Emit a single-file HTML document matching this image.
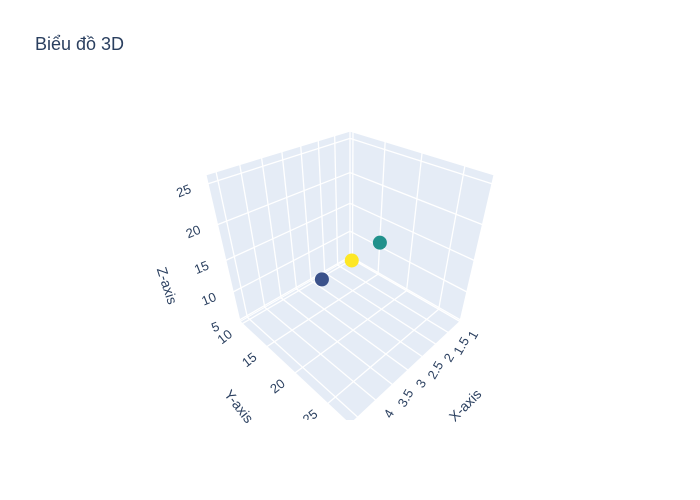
<!DOCTYPE html>
<html><head><meta charset="utf-8"><style>
body{margin:0;background:#fff}
svg{display:block;font-family:"Liberation Sans","DejaVu Sans",sans-serif}
</style></head><body>
<svg id="chart" width="700" height="500">
<rect width="700" height="500" fill="#fff"/>
<text x="35" y="50" font-size="18" fill="#2a3f5f">Biểu đồ 3D</text>
<defs><clipPath id="sc"><rect x="0" y="60" width="700" height="360"/></clipPath></defs>
<g id="scene" clip-path="url(#sc)"></g>
</svg>
<script>
const xVals=[3.85,3.05,2.2];
const yVals=[20,20,20];
const zVals=[16.1,16.3,16.5];
const colorVals=['#3b528b','#fde725','#21918c'];
const xTicks=[1,1.5,2,2.5,3,3.5,4,4.5];
const yTicks=[10,15,20,25];
const zTicks=[5,10,15,20,25];
const xRange=[1,4.7], yRange=[9.5,28], zRange=[4.7,26];

const D=4.3,S=379,CX=350,CY=258;
const r=[-1/Math.SQRT2,1/Math.SQRT2,0],u=[-1/Math.sqrt(6),-1/Math.sqrt(6),2/Math.sqrt(6)],f=[-1/Math.sqrt(3),-1/Math.sqrt(3),-1/Math.sqrt(3)];
const dot=(a,b)=>a[0]*b[0]+a[1]*b[1]+a[2]*b[2];
function proj(p){const d=dot(f,p)+D;return [CX+S*dot(r,p)/d,CY-S*dot(u,p)/d];}
const nx=v=>(v-xRange[0])/(xRange[1]-xRange[0])*2-1;
const ny=v=>(v-yRange[0])/(yRange[1]-yRange[0])*2-1;
const nz=v=>(v-zRange[0])/(zRange[1]-zRange[0])*2-1;
const g=document.getElementById('scene');const NS='http://www.w3.org/2000/svg';
function mk(t,a){const e=document.createElementNS(NS,t);for(const k in a)e.setAttribute(k,a[k]);g.appendChild(e);return e;}
function poly(pts,name){const e=mk('polygon',{points:pts.map(p=>proj(p).join(',')).join(' '),fill:'#e5ecf6',stroke:'#fff','stroke-width':1});

}
function line(a,b,name){const A=proj(a),B=proj(b);const e=mk('line',{x1:A[0],y1:A[1],x2:B[0],y2:B[1],stroke:'#fff','stroke-width':1.3});

}
poly([[-1,-1,-1],[1,-1,-1],[1,1,-1],[-1,1,-1]],'floor-plane');
poly([[-1,-1,-1],[1,-1,-1],[1,-1,1],[-1,-1,1]],'left-wall');
poly([[-1,-1,-1],[-1,1,-1],[-1,1,1],[-1,-1,1]],'right-wall');
xTicks.forEach(t=>{const x=nx(t);line([x,-1,-1],[x,1,-1],'x-grid-floor');line([x,-1,-1],[x,-1,1],'x-grid-wall');});
yTicks.forEach(t=>{const y=ny(t);line([-1,y,-1],[1,y,-1],'y-grid-floor');line([-1,y,-1],[-1,y,1],'y-grid-wall');});
zTicks.forEach(t=>{const z=nz(t);line([-1,-1,z],[1,-1,z],'z-grid-left');line([-1,-1,z],[-1,1,z],'z-grid-right');});
function txt(p,dx,dy,s,rot,name,size){const P=proj(p);const e=mk('text',{x:P[0]+dx,y:P[1]+dy,'font-size':size||13,fill:'#2a3f5f','text-anchor':'middle','dominant-baseline':'middle',transform:`rotate(${rot} ${P[0]+dx} ${P[1]+dy})`});e.textContent=s;

}
xTicks.forEach(t=>txt([nx(t),1,-1],14,14,t,-60,'x-tick-label'));
yTicks.forEach(t=>txt([1,ny(t),-1],-17,14,t,-38,'y-tick-label'));
zTicks.forEach(t=>txt([1,-1,nz(t)],-24,8,t,-22,'z-tick-label'));
function title(x,y,s,rot,name){const e=document.createElementNS(NS,'text');
e.setAttribute('x',x);e.setAttribute('y',y);e.setAttribute('font-size',14);e.setAttribute('fill','#2a3f5f');e.setAttribute('text-anchor','middle');e.setAttribute('dominant-baseline','middle');e.setAttribute('transform',`rotate(${rot} ${x} ${y})`);e.textContent=s;


document.getElementById('chart').appendChild(e);}
title(466,406,'X-axis',-45,'x-axis-title');
title(238,407,'Y-axis',52,'y-axis-title');
title(166,286,'Z-axis',72,'z-axis-title');
xVals.map((x,i)=>({p:[nx(x),ny(yVals[i]),nz(zVals[i])],c:colorVals[i]}))
.sort((a,b)=>(dot(f,b.p))-(dot(f,a.p)))
.forEach(o=>{const P=proj(o.p);const e=mk('circle',{cx:P[0],cy:P[1],r:7,fill:o.c});

});
</script>
</body></html>
